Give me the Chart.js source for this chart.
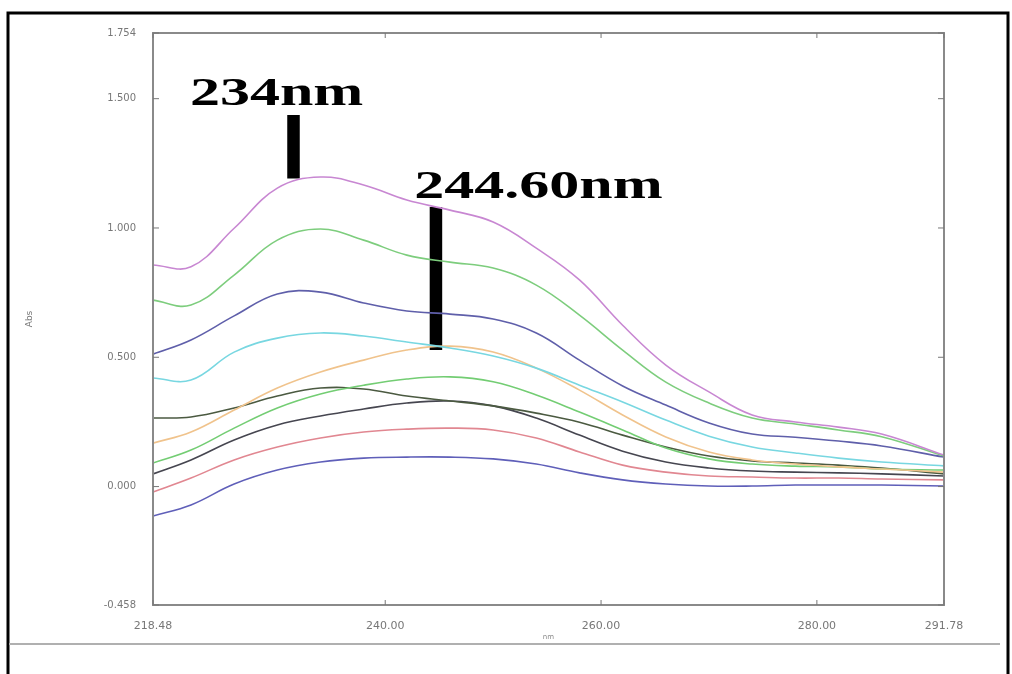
<!DOCTYPE html>
<html>
<head>
<meta charset="utf-8">
<script src="https://cdn.jsdelivr.net/npm/chart.js@4.4.1/dist/chart.umd.min.js"></script>
<style>
  html, body { margin: 0; padding: 0; background: #fff; }
  #wrap { width: 1012px; height: 674px; position: relative; }
</style>
</head>
<body>
<div id="wrap"><canvas id="SpectraChart" width="1012" height="674"></canvas></div>
<script>
// wavelengths (nm)
const wavelengths = [218.48, 222, 226, 230, 234, 238, 242, 246, 250, 254, 258, 262, 266, 270, 274, 278, 282, 286, 291.78];

// absorbance of each spectrum (top to bottom at the left edge)
const absMagenta = [0.857, 0.850, 0.999, 1.154, 1.197, 1.166, 1.108, 1.069, 1.023, 0.922, 0.799, 0.624, 0.470, 0.366, 0.277, 0.250, 0.230, 0.203, 0.122];
const absGreen1  = [0.721, 0.702, 0.818, 0.953, 0.996, 0.953, 0.895, 0.868, 0.845, 0.779, 0.663, 0.528, 0.404, 0.323, 0.265, 0.242, 0.219, 0.193, 0.118];
const absNavy    = [0.512, 0.567, 0.660, 0.745, 0.752, 0.710, 0.679, 0.667, 0.648, 0.594, 0.489, 0.389, 0.315, 0.246, 0.203, 0.191, 0.176, 0.157, 0.114];
const absCyan    = [0.420, 0.412, 0.520, 0.574, 0.594, 0.582, 0.559, 0.536, 0.505, 0.458, 0.392, 0.327, 0.257, 0.195, 0.153, 0.130, 0.110, 0.095, 0.080];
const absOrange  = [0.168, 0.211, 0.296, 0.381, 0.443, 0.489, 0.528, 0.543, 0.520, 0.458, 0.373, 0.277, 0.192, 0.134, 0.103, 0.087, 0.076, 0.068, 0.056];
const absGreen2  = [0.091, 0.141, 0.226, 0.304, 0.358, 0.392, 0.416, 0.424, 0.405, 0.354, 0.288, 0.219, 0.149, 0.107, 0.087, 0.079, 0.076, 0.068, 0.064];
const absOlive   = [0.265, 0.269, 0.304, 0.350, 0.381, 0.377, 0.350, 0.331, 0.312, 0.284, 0.249, 0.199, 0.153, 0.118, 0.099, 0.091, 0.083, 0.072, 0.049];
const absBlack   = [0.049, 0.103, 0.180, 0.238, 0.273, 0.300, 0.323, 0.331, 0.312, 0.265, 0.199, 0.137, 0.095, 0.072, 0.060, 0.056, 0.053, 0.049, 0.041];
const absRed     = [-0.021, 0.033, 0.103, 0.153, 0.188, 0.211, 0.222, 0.226, 0.219, 0.188, 0.134, 0.083, 0.056, 0.041, 0.037, 0.033, 0.033, 0.029, 0.026];
const absBlue    = [-0.114, -0.071, 0.010, 0.064, 0.095, 0.110, 0.114, 0.114, 0.107, 0.087, 0.053, 0.026, 0.010, 0.002, 0.002, 0.006, 0.006, 0.006, 0.002];

// axis ticks
const xTicks = [218.48, 240.00, 260.00, 280.00, 291.78];
const yTicks = [-0.458, 0.000, 0.500, 1.000, 1.500, 1.754];

// peak markers: label, bar position (nm) and bar extent (Abs)
const peakLabels = ['234nm', '244.60nm'];
const peakBarX = [231.5, 244.7];
const peakBarTop = [1.437, 1.081];
const peakBarBottom = [1.191, 0.528];
const peakLabelX = [221.9, 242.7];
const peakLabelY = [1.476, 1.116];

function toPoints(ys) {
    return wavelengths.map((w, i) => ({ x: w, y: ys[i] }));
}

function spectrum(ys, color) {
    return {
        data: toPoints(ys),
        borderColor: color,
        borderWidth: 1.6,
        pointRadius: 0,
        tension: 0.4,
        fill: false
    };
}

const datasets = [
    spectrum(absMagenta, 'rgb(200,135,210)'),
    spectrum(absGreen1, 'rgb(125,205,125)'),
    spectrum(absNavy, 'rgb(95,95,170)'),
    spectrum(absCyan, 'rgb(120,215,225)'),
    spectrum(absOrange, 'rgb(240,195,140)'),
    spectrum(absGreen2, 'rgb(115,205,115)'),
    spectrum(absOlive, 'rgb(75,90,65)'),
    spectrum(absBlack, 'rgb(70,70,80)'),
    spectrum(absRed, 'rgb(225,135,145)'),
    spectrum(absBlue, 'rgb(95,95,185)')
];

// black marker bars
peakBarX.forEach((x, i) => {
    datasets.push({
        data: [{ x: x, y: peakBarTop[i] }, { x: x, y: peakBarBottom[i] }],
        borderColor: '#000',
        borderWidth: 12.5,
        borderCapStyle: 'butt',
        pointRadius: 0,
        tension: 0
    });
});

// frame, plot box, inward ticks and peak labels
const decorPlugin = {
    id: 'decor',
    beforeDraw(chart) {
        const ctx = chart.ctx;
        ctx.save();
        ctx.fillStyle = '#fff';
        ctx.fillRect(0, 0, chart.width, chart.height);
        ctx.restore();
    },
    afterDraw(chart) {
        const ctx = chart.ctx;
        const a = chart.chartArea;
        const xs = chart.scales.x, ys = chart.scales.y;
        ctx.save();
        // outer black frame
        ctx.strokeStyle = '#000';
        ctx.lineWidth = 3;
        ctx.beginPath();
        ctx.moveTo(8, 680);
        ctx.lineTo(8, 13);
        ctx.lineTo(1008, 13);
        ctx.lineTo(1008, 680);
        ctx.stroke();
        // grey rule under the chart
        ctx.strokeStyle = '#b0b0b0';
        ctx.lineWidth = 2;
        ctx.beginPath();
        ctx.moveTo(9, 644);
        ctx.lineTo(1000, 644);
        ctx.stroke();
        // plot box
        ctx.strokeStyle = '#8a8a8a';
        ctx.lineWidth = 2;
        ctx.strokeRect(a.left, a.top, a.right - a.left, a.bottom - a.top);
        // inward tick marks on all four sides
        ctx.lineWidth = 1;
        ctx.strokeStyle = '#777';
        ctx.beginPath();
        xTicks.forEach(v => {
            const px = xs.getPixelForValue(v);
            ctx.moveTo(px, a.bottom); ctx.lineTo(px, a.bottom - 5);
            ctx.moveTo(px, a.top); ctx.lineTo(px, a.top + 5);
        });
        yTicks.forEach(v => {
            const py = ys.getPixelForValue(v);
            ctx.moveTo(a.left, py); ctx.lineTo(a.left + 6, py);
            ctx.moveTo(a.right, py); ctx.lineTo(a.right - 6, py);
        });
        ctx.stroke();
        // peak labels (the source image is stretched sideways)
        ctx.fillStyle = '#000';
        ctx.font = 'bold 40px "Liberation Serif", "DejaVu Serif", serif';
        ctx.textBaseline = 'alphabetic';
        peakLabels.forEach((t, i) => {
            const px = xs.getPixelForValue(peakLabelX[i]);
            const py = ys.getPixelForValue(peakLabelY[i]);
            ctx.save();
            ctx.translate(px, py);
            ctx.scale(1.5, 1);
            ctx.fillText(t, 0, 0);
            ctx.restore();
        });
        ctx.restore();
    }
};

const ctx = document.getElementById('SpectraChart').getContext('2d');
new Chart(ctx, {
    type: 'line',
    data: { datasets: datasets },
    options: {
        responsive: false,
        animation: false,
        layout: { padding: { left: 20, top: 33, right: 68, bottom: 30 } },
        plugins: {
            legend: { display: false },
            tooltip: { enabled: false }
        },
        scales: {
            x: {
                type: 'linear',
                min: 218.48,
                max: 291.78,
                afterBuildTicks: (scale) => { scale.ticks = xTicks.map(v => ({ value: v })); },
                afterFit: (scale) => { scale.height = 39; },
                grid: { display: false },
                border: { display: false },
                ticks: {
                    color: '#777',
                    font: { size: 11, family: 'DejaVu Sans' },
                    padding: 7,
                    maxRotation: 0,
                    autoSkip: false,
                    callback: (v) => Number(v).toFixed(2)
                },
                title: {
                    display: true,
                    text: 'nm',
                    color: '#888',
                    font: { size: 7, family: 'DejaVu Sans' },
                    padding: { top: 0, bottom: 3 }
                }
            },
            y: {
                min: -0.458,
                max: 1.754,
                afterBuildTicks: (scale) => { scale.ticks = yTicks.map(v => ({ value: v })); },
                afterFit: (scale) => { scale.width = 133; },
                grid: { display: false },
                border: { display: false },
                ticks: {
                    color: '#777',
                    font: { size: 10, family: 'DejaVu Sans' },
                    padding: 9,
                    autoSkip: false,
                    callback: (v) => Number(v).toFixed(3)
                },
                title: {
                    display: true,
                    text: 'Abs',
                    color: '#777',
                    font: { size: 9, family: 'DejaVu Sans' },
                    padding: { top: 4, bottom: 4 }
                }
            }
        }
    },
    plugins: [decorPlugin]
});
</script>
</body>
</html>
